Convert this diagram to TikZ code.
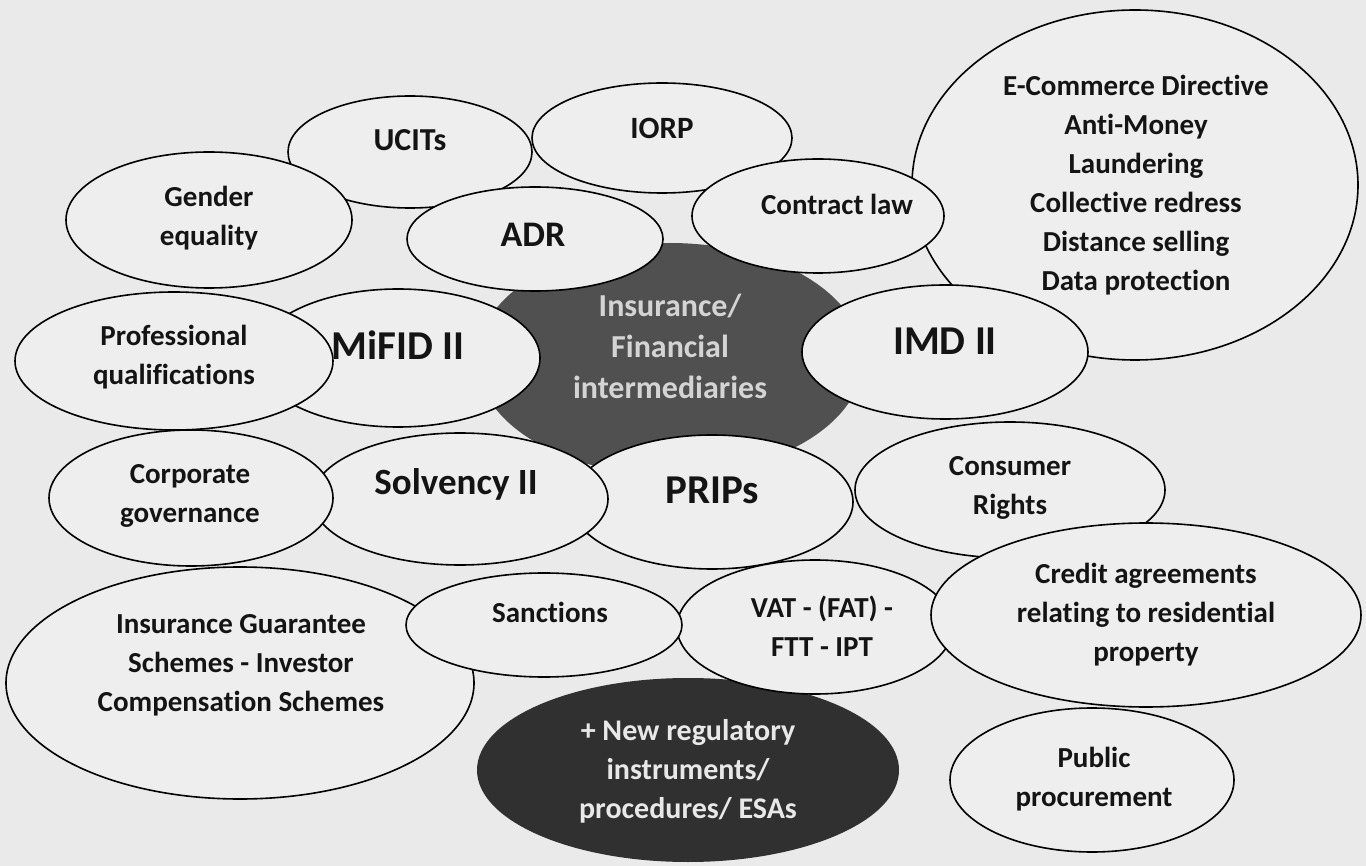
\documentclass[tikz,border=0pt]{standalone}
\usepackage{fontspec}
\setmainfont{Carlito}[Ligatures=NoCommon]
\usetikzlibrary{shapes.geometric}
\definecolor{bg}{RGB}{234,234,234}
\definecolor{ellfill}{RGB}{238,238,238}
\definecolor{darkA}{RGB}{80,80,80}
\definecolor{darkB}{RGB}{48,48,48}
\definecolor{txt}{RGB}{20,20,20}
\definecolor{lighttxtA}{RGB}{212,212,212}
\definecolor{lighttxtB}{RGB}{232,232,232}
\tikzset{
  ell/.style={ellipse, draw=black, line width=1.6pt, fill=ellfill, inner sep=0pt, outer sep=0pt},
  darkell/.style={ellipse, draw=none, inner sep=0pt, outer sep=0pt},
  lbl/.style={font=\bfseries\fontsize{29}{39}\selectfont, align=center, text=txt, inner sep=0pt},
  biglbl/.style={font=\bfseries\fontsize{41}{48}\selectfont, align=center, text=txt, inner sep=0pt},
}
\newcommand{\ellnode}[5]{\node[ell, minimum width=#3pt, minimum height=#4pt] (#1) at (#2) {};}
\begin{document}
\begin{tikzpicture}[x=1pt,y=-1pt]
\useasboundingbox (0,0) rectangle (1366,866);
\fill[bg] (0,0) rectangle (1366,866);

% dark ellipses (bottom layer)
\node[darkell, fill=darkA, minimum width=386pt, minimum height=232pt] (center) at (670,359) {};
\node[darkell, fill=darkB, minimum width=422pt, minimum height=184pt] (newreg) at (688,770) {};

% light ellipses, back to front
\ellnode{bigr}{1135,185}{446}{350}{}
\ellnode{ucits}{410,152}{244}{112}{}
\ellnode{iorp}{662,138}{260}{110}{}
\ellnode{adr}{535,239}{256}{104}{}
\ellnode{gender}{209,220}{286}{136}{}
\ellnode{contract}{818,216}{252}{114}{}
\ellnode{imd}{945,352}{286}{134}{}
\ellnode{mifid}{398,358}{284}{138}{}
\ellnode{prof}{174,361}{318}{138}{}
\ellnode{prips}{712,502}{282}{134}{}
\ellnode{solv}{460,499}{296}{132}{}
\ellnode{corp}{191,498}{284}{136}{}
\ellnode{consumer}{1010,490}{310}{136}{}
\ellnode{vat}{815,627}{276}{134}{}
\ellnode{credit}{1146,615}{430}{184}{}
\ellnode{igs}{240,683}{468}{232}{}
\ellnode{sanctions}{544,625}{276}{104}{}
\ellnode{public}{1092,780}{284}{144}{}

% labels
\node[lbl, text=lighttxtA, font=\bfseries\fontsize{32}{41}\selectfont] (tcenter) at (670,346) {Insurance/\\Financial\\intermediaries};
\node[lbl, text=lighttxtB, font=\bfseries\fontsize{30}{39}\selectfont] (tnewreg) at (688,771) {+ New regulatory\\instruments/\\procedures/ ESAs};
\node[lbl] (tbigr) at (1136,185) {E-Commerce Directive\\Anti-Money\\Laundering\\Collective redress\\Distance selling\\Data protection};
\node[lbl, font=\bfseries\fontsize{32}{39}\selectfont] (tucits) at (410,140) {UCITs};
\node[lbl, font=\bfseries\fontsize{31}{39}\selectfont] (tiorp) at (662,128) {IORP};
\node[lbl, font=\bfseries\fontsize{36}{39}\selectfont] (tadr) at (533,235) {ADR};
\node[lbl] (tgender) at (209,218) {Gender\\equality};
\node[lbl] (tcontract) at (837,204) {Contract law};
\node[biglbl] (timd) at (945,341) {IMD II};
\node[biglbl] (tmifid) at (398,345) {MiFID II};
\node[lbl] (tprof) at (174,357) {Professional\\qualifications};
\node[biglbl] (tprips) at (712,490) {PRIPs};
\node[biglbl, font=\bfseries\fontsize{37}{44}\selectfont] (tsolv) at (456,484) {Solvency II};
\node[lbl] (tcorp) at (190,496) {Corporate\\governance};
\node[lbl] (tconsumer) at (1010,488) {Consumer\\Rights};
\node[lbl] (tvat) at (822,626) {VAT - (FAT) -\\FTT - IPT};
\node[lbl] (tcredit) at (1146,615) {Credit agreements\\relating to residential\\property};
\node[lbl] (tigs) at (241,665) {Insurance Guarantee\\Schemes - Investor\\Compensation Schemes};
\node[lbl] (tsanctions) at (550,612) {Sanctions};
\node[lbl] (tpublic) at (1094,779) {Public\\procurement};
\end{tikzpicture}
\end{document}
